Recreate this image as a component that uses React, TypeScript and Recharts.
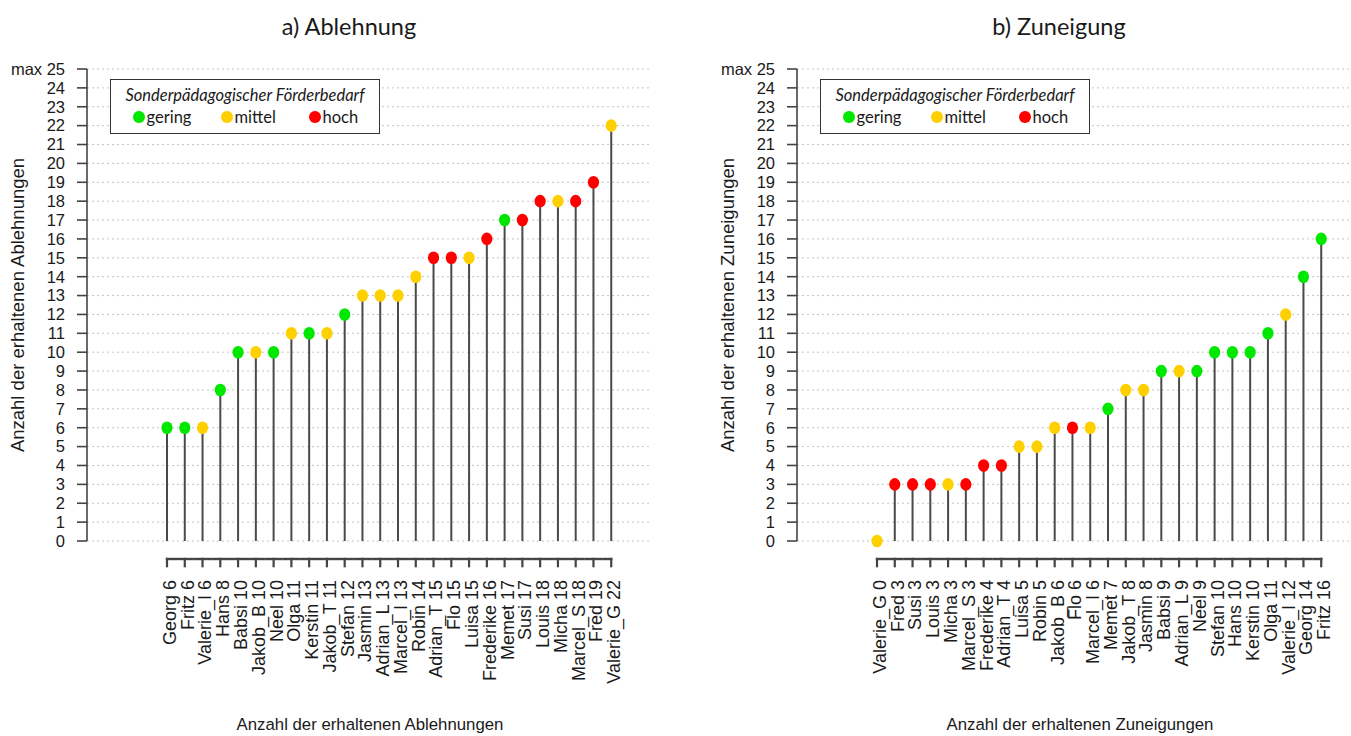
import React from 'react';
import { ComposedChart, Bar, XAxis, YAxis, CartesianGrid } from 'recharts';

// ---------- data ----------
const ablehnungNames = ['Georg', 'Fritz', 'Valerie_I', 'Hans', 'Babsi', 'Jakob_B', 'Neel', 'Olga', 'Kerstin', 'Jakob_T', 'Stefan', 'Jasmin', 'Adrian_L', 'Marcel_I', 'Robin', 'Adrian_T', 'Flo', 'Luisa', 'Frederike', 'Memet', 'Susi', 'Louis', 'Micha', 'Marcel_S', 'Fred', 'Valerie_G'];
const ablehnungValues = [6, 6, 6, 8, 10, 10, 10, 11, 11, 11, 12, 13, 13, 13, 14, 15, 15, 15, 16, 17, 17, 18, 18, 18, 19, 22];
const ablehnungLevels = ['gering', 'gering', 'mittel', 'gering', 'gering', 'mittel', 'gering', 'mittel', 'gering', 'mittel', 'gering', 'mittel', 'mittel', 'mittel', 'mittel', 'hoch', 'hoch', 'mittel', 'hoch', 'gering', 'hoch', 'hoch', 'mittel', 'hoch', 'hoch', 'mittel'];

const zuneigungNames = ['Valerie_G', 'Fred', 'Susi', 'Louis', 'Micha', 'Marcel_S', 'Frederike', 'Adrian_T', 'Luisa', 'Robin', 'Jakob_B', 'Flo', 'Marcel_I', 'Memet', 'Jakob_T', 'Jasmin', 'Babsi', 'Adrian_L', 'Neel', 'Stefan', 'Hans', 'Kerstin', 'Olga', 'Valerie_I', 'Georg', 'Fritz'];
const zuneigungValues = [0, 3, 3, 3, 3, 3, 4, 4, 5, 5, 6, 6, 6, 7, 8, 8, 9, 9, 9, 10, 10, 10, 11, 12, 14, 16];
const zuneigungLevels = ['mittel', 'hoch', 'hoch', 'hoch', 'mittel', 'hoch', 'hoch', 'hoch', 'mittel', 'mittel', 'mittel', 'hoch', 'mittel', 'gering', 'mittel', 'mittel', 'gering', 'mittel', 'gering', 'gering', 'gering', 'gering', 'gering', 'mittel', 'gering', 'gering'];

const yTicks = [0, 1, 2, 3, 4, 5, 6, 7, 8, 9, 10, 11, 12, 13, 14, 15, 16, 17, 18, 19, 20, 21, 22, 23, 24, 25];
const legendLevels = ['gering', 'mittel', 'hoch'];
const levelColors: Record<string, string> = { gering: '#00E800', mittel: '#FFD000', hoch: '#FF0000' };

const buildData = (names: string[], values: number[], levels: string[]) =>
  names.map((n, i) => ({ label: `${n} ${values[i]}`, value: values[i], level: levels[i] }));

const ablehnungData = buildData(ablehnungNames, ablehnungValues, ablehnungLevels);
const zuneigungData = buildData(zuneigungNames, zuneigungValues, zuneigungLevels);

// ---------- layout ----------
const PANEL_W = 710;
const PANEL_H = 736;
const MARGIN = { top: 69, right: 58, left: 0, bottom: 45 };
const XAXIS_H = 150;
const PLOT_BOTTOM = PANEL_H - MARGIN.bottom - XAXIS_H;
const AXIS_GAP = 18;
const SANS = '"Liberation Sans", Arial, sans-serif';
const LATO = 'Lato, "Open Sans", sans-serif';
const AXIS_COLOR = '#444444';

// stem + dot, plus the piece of the offset x axis (baseline + tick) under this category
const Lollipop = (props: any) => {
  const { x, y, width, height, payload, index, count } = props;
  const cx = x + width / 2;
  const baseY = y + height;
  const axisY = baseY + AXIS_GAP;
  const color = levelColors[payload.level];
  const segL = index === 0 ? cx - 1.2 : x;
  const segR = index === count - 1 ? cx + 1.2 : x + width;
  return (
    <g>
      <rect x={segL} y={axisY - 1.2} width={segR - segL} height={2.4} fill={AXIS_COLOR} />
      <rect x={cx - 1.1} y={axisY - 1.2} width={2.2} height={9.5} fill={AXIS_COLOR} />
      <line x1={cx} x2={cx} y1={y} y2={baseY} stroke="#4a4a4a" strokeWidth={2} />
      <ellipse cx={cx} cy={y} rx={5.6} ry={6.3} fill={color} />
    </g>
  );
};

const XTick = (props: any) => {
  const { x, payload } = props;
  const ty = PLOT_BOTTOM + AXIS_GAP + 21;
  return (
    <text
      x={x}
      y={ty}
      transform={`rotate(-90, ${x}, ${ty})`}
      textAnchor="end"
      dy="0.5em"
      fontFamily={SANS}
      fontSize={18}
      fill="#1a1a1a"
    >
      {payload.value}
    </text>
  );
};

const Panel = ({ left, title, yTitle, xTitle, data }: any) => (
  <div style={{ position: 'absolute', left, top: 0, width: PANEL_W, height: PANEL_H }}>
    <ComposedChart width={PANEL_W} height={PANEL_H} data={data} margin={MARGIN} barCategoryGap={0}>
      <CartesianGrid horizontal vertical={false} stroke="#c4c4c4" strokeDasharray="2 3" />
      <XAxis
        dataKey="label"
        interval={0}
        padding={{ left: 71, right: 32 }}
        axisLine={false}
        tickLine={false}
        tickSize={0}
        tickMargin={0}
        height={XAXIS_H}
        tick={<XTick />}
      />
      <YAxis
        width={87}
        domain={[0, 25]}
        ticks={yTicks}
        interval={0}
        tickSize={10}
        tickMargin={12}
        axisLine={{ stroke: AXIS_COLOR, strokeWidth: 1.6 }}
        tickLine={{ stroke: AXIS_COLOR, strokeWidth: 1.6 }}
        tick={{ fontFamily: SANS, fontSize: 16.5, fill: '#1a1a1a' }}
        tickFormatter={(v: number) => (v === 25 ? `max ${v}` : `${v}`)}
      />
      <Bar dataKey="value" shape={<Lollipop count={data.length} />} isAnimationActive={false} />
    </ComposedChart>

    <div style={{ position: 'absolute', left: 199, width: 300, top: 11, textAlign: 'center', fontFamily: LATO, fontSize: 23.5, color: '#1a1a1a', lineHeight: '30px' }}>
      {title}
    </div>

    <div style={{ position: 'absolute', left: 18 - 200, top: 305 - 12, width: 400, height: 24, textAlign: 'center', transform: 'rotate(-90deg)', fontFamily: SANS, fontSize: 18.5, lineHeight: '24px', color: '#1a1a1a' }}>
      {yTitle}
    </div>

    <div style={{ position: 'absolute', left: 170, width: 400, top: 714, textAlign: 'center', fontFamily: SANS, fontSize: 16.8, lineHeight: '22px', color: '#1a1a1a' }}>
      {xTitle}
    </div>

    <div style={{ position: 'absolute', left: 110, top: 79, width: 270, height: 55, boxSizing: 'border-box', border: '1.5px solid #333', background: '#fff' }}>
      <div style={{ position: 'absolute', left: 0, right: 0, top: 4, textAlign: 'center', fontFamily: LATO, fontStyle: 'italic', fontSize: 16.5, lineHeight: '22px', color: '#1a1a1a' }}>
        Sonderpädagogischer Förderbedarf
      </div>
      {legendLevels.map((lv, i) => (
        <div key={lv} style={{ position: 'absolute', left: 22 + i * 88, top: 26, height: 22, display: 'flex', alignItems: 'center', fontFamily: LATO, fontSize: 16.5, color: '#1a1a1a' }}>
          <span style={{ display: 'inline-block', width: 11.5, height: 12, borderRadius: '50%', background: levelColors[lv], marginRight: 2 }} />
          <span>{lv}</span>
        </div>
      ))}
    </div>
  </div>
);

export default function App() {
  return (
    <div style={{ position: 'absolute', left: 0, top: 0, width: 1351, height: 736, overflow: 'hidden', background: '#fff' }}>
      <Panel
        left={0}
        title="a) Ablehnung"
        yTitle="Anzahl der erhaltenen Ablehnungen"
        xTitle="Anzahl der erhaltenen Ablehnungen"
        data={ablehnungData}
      />
      <Panel
        left={710}
        title="b) Zuneigung"
        yTitle="Anzahl der erhaltenen Zuneigungen"
        xTitle="Anzahl der erhaltenen Zuneigungen"
        data={zuneigungData}
      />
    </div>
  );
}
